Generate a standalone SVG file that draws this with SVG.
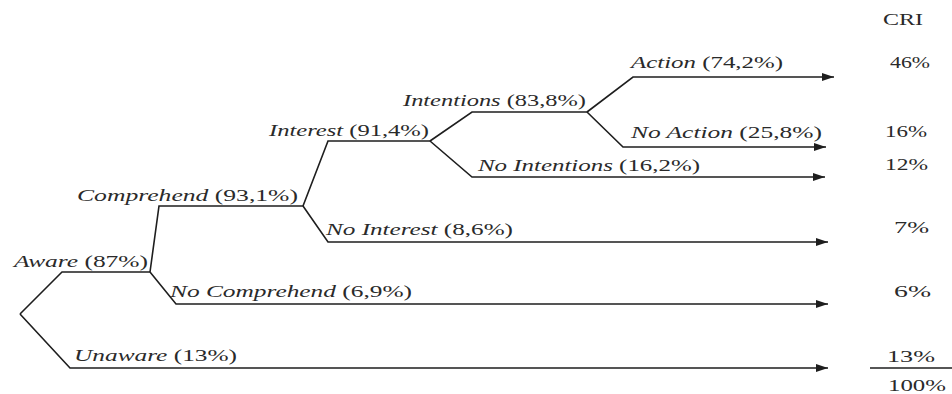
<svg xmlns="http://www.w3.org/2000/svg" width="952" height="394" viewBox="0 0 952 394">
<style>
.t{font-family:"Liberation Serif","Times New Roman",serif;font-size:16px;fill:#2a2a2a}
.i{font-style:italic}
.c{fill:none;stroke:#1e1e1e;stroke-width:1.6;stroke-linejoin:miter}
</style>
<defs>
<marker id="ah" viewBox="0 0 12 8" refX="12" refY="4" markerWidth="12" markerHeight="8" markerUnits="userSpaceOnUse" orient="auto">
<path d="M0,0 L12,4 L0,8 Z" fill="#1e1e1e"/>
</marker>
</defs>
<rect width="952" height="394" fill="#fff"/>
<g id="connectors">
<polyline class="c" points="20,314 62,272 150,272"/>
<polyline class="c" points="20,314 70,368 828,368" marker-end="url(#ah)"/>
<polyline class="c" points="150,272 159,206 303,206"/>
<polyline class="c" points="150,272 176,304 828,304" marker-end="url(#ah)"/>
<polyline class="c" points="303,206 328,141 430,141"/>
<polyline class="c" points="303,206 328,242 828,242" marker-end="url(#ah)"/>
<polyline class="c" points="430,141 472,112 587,112"/>
<polyline class="c" points="430,141 472,177 825,177" marker-end="url(#ah)"/>
<polyline class="c" points="587,112 633,77 834,77" marker-end="url(#ah)"/>
<polyline class="c" points="587,112 623,147 826,147" marker-end="url(#ah)"/>
<line class="c" x1="870" y1="368" x2="952" y2="368"/>
</g>
<g id="aware"><text class="t" x="14" y="267" textLength="134" lengthAdjust="spacingAndGlyphs"><tspan class="i">Aware</tspan> (87%)</text></g>
<g id="unaware"><text class="t" x="74" y="361" textLength="163" lengthAdjust="spacingAndGlyphs"><tspan class="i">Unaware</tspan> (13%)</text></g>
<g id="comprehend"><text class="t" x="77" y="201" textLength="221" lengthAdjust="spacingAndGlyphs"><tspan class="i">Comprehend</tspan> (93,1%)</text></g>
<g id="no-comprehend"><text class="t" x="170" y="297" textLength="242" lengthAdjust="spacingAndGlyphs"><tspan class="i">No Comprehend</tspan> (6,9%)</text></g>
<g id="interest"><text class="t" x="269" y="136" textLength="160" lengthAdjust="spacingAndGlyphs"><tspan class="i">Interest</tspan> (91,4%)</text></g>
<g id="no-interest"><text class="t" x="326" y="235" textLength="187" lengthAdjust="spacingAndGlyphs"><tspan class="i">No Interest</tspan> (8,6%)</text></g>
<g id="intentions"><text class="t" x="403" y="106" textLength="183" lengthAdjust="spacingAndGlyphs"><tspan class="i">Intentions</tspan> (83,8%)</text></g>
<g id="no-intentions"><text class="t" x="478" y="171" textLength="222" lengthAdjust="spacingAndGlyphs"><tspan class="i">No Intentions</tspan> (16,2%)</text></g>
<g id="action"><text class="t" x="631" y="68" textLength="152" lengthAdjust="spacingAndGlyphs"><tspan class="i">Action</tspan> (74,2%)</text></g>
<g id="no-action"><text class="t" x="631" y="138" textLength="191" lengthAdjust="spacingAndGlyphs"><tspan class="i">No Action</tspan> (25,8%)</text></g>
<g id="cri-column">
<text class="t" x="883" y="25" textLength="40" lengthAdjust="spacingAndGlyphs">CRI</text>
<text class="t" x="890" y="68" textLength="40" lengthAdjust="spacingAndGlyphs">46%</text>
<text class="t" x="885" y="137" textLength="42" lengthAdjust="spacingAndGlyphs">16%</text>
<text class="t" x="885" y="170" textLength="43" lengthAdjust="spacingAndGlyphs">12%</text>
<text class="t" x="894" y="233" textLength="35" lengthAdjust="spacingAndGlyphs">7%</text>
<text class="t" x="894" y="297" textLength="37" lengthAdjust="spacingAndGlyphs">6%</text>
<text class="t" x="887" y="362" textLength="48" lengthAdjust="spacingAndGlyphs">13%</text>
<text class="t" x="888" y="391" textLength="58" lengthAdjust="spacingAndGlyphs">100%</text>
</g>
</svg>
